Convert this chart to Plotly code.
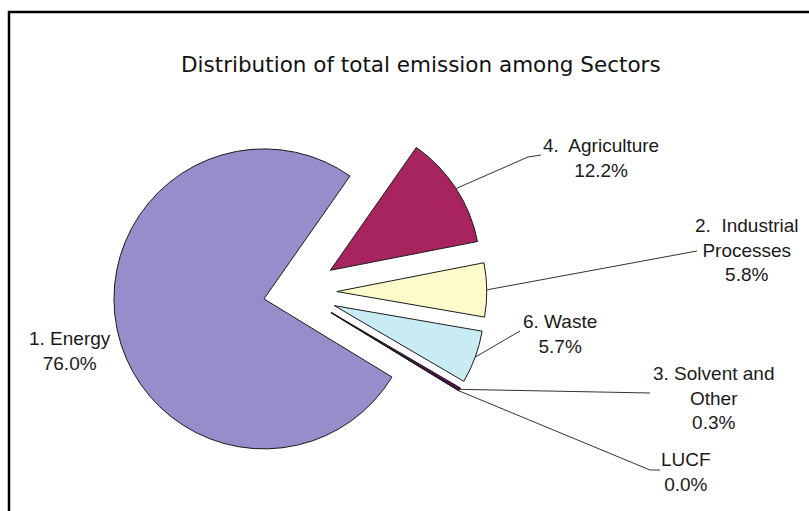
import math
import plotly.graph_objects as go

# Share of total emissions by sector (percent), listed clockwise
sectors = ["4.  Agriculture", "2.  Industrial<br>Processes", "6. Waste",
           "3. Solvent and<br>Other", "LUCF", "1. Energy"]
shares = [12.2, 5.8, 5.7, 0.3, 0.0, 76.0]
colors = ["#a8245f", "#fdfbc9", "#c9ebf3", "#5a0a5a", "#000000", "#968dcb"]
pulls = [0.265, 0.265, 0.265, 0.265, 0.265, 0.225]

W, H = 809, 511
CX, CY = 297, 292          # pie centre in pixels
R = 150                    # slice radius in pixels
ROTATION = 35              # start angle of the first slice, clockwise from 12 o'clock

half = R * (1 + max(pulls))
dom_x = [(CX - half) / W, (CX + half) / W]
dom_y = [1 - (CY + half) / H, 1 - (CY - half) / H]


def px(x):
    return x / W


def py(y):
    return 1 - y / H


fig = go.Figure(go.Pie(
    labels=[s.replace("<br>", " ") for s in sectors],
    values=shares,
    sort=False,
    direction="clockwise",
    rotation=ROTATION,
    pull=pulls,
    textinfo="none",
    marker=dict(colors=colors, line=dict(color="#1a1a1a", width=1)),
    domain=dict(x=dom_x, y=dom_y),
    hoverinfo="label+percent",
))

# Outer point of each slice, following the pie's own angular layout
total = sum(shares)
anchors = []
cum = 0.0
for v, p in zip(shares, pulls):
    mid = math.radians(ROTATION + 360 * (cum + v / 2) / total)
    ux, uy = math.sin(mid), -math.cos(mid)
    anchors.append((CX + (p * R + R) * ux, CY + (p * R + R) * uy))
    cum += v

# Leader-line routes (pixel points after the slice anchor) and label centres
routes = [[(528, 157), (541, 155)], [(697, 251)], [(520, 331)],
          [(650, 393)], [(650, 470), (660, 470)], None]
label_pos = [(601, 158), (747, 250), (560, 334), (713, 398), (686, 472), (70, 351)]

shapes = [dict(type="rect", xref="paper", yref="paper",
               x0=px(9), x1=px(W + 40), y0=py(H + 40), y1=py(12),
               line=dict(color="black", width=2.5), fillcolor="rgba(0,0,0,0)")]
for anchor, route in zip(anchors, routes):
    if not route:
        continue
    pts = [anchor] + route
    path = "M " + " L ".join(f"{px(x):.5f},{py(y):.5f}" for x, y in pts)
    shapes.append(dict(type="path", xref="paper", yref="paper", path=path,
                       line=dict(color="#333333", width=1)))

annotations = [dict(text="Distribution of total emission among Sectors",
                    x=px(421), y=py(64), xref="paper", yref="paper",
                    xanchor="center", yanchor="middle", showarrow=False,
                    font=dict(family="DejaVu Sans", size=21.5, color="#111111"))]
for name, v, (lx, ly) in zip(sectors, shares, label_pos):
    annotations.append(dict(text=f"{name}<br>{v:.1f}%", x=px(lx), y=py(ly),
                            xref="paper", yref="paper", xanchor="center",
                            yanchor="middle", showarrow=False, align="center",
                            font=dict(family="Liberation Sans, Arial", size=19,
                                      color="#1a1a1a")))

fig.update_layout(width=W, height=H, margin=dict(l=0, r=0, t=0, b=0),
                  paper_bgcolor="white", plot_bgcolor="white", showlegend=False,
                  shapes=shapes, annotations=annotations)
fig.write_html("out.html")
